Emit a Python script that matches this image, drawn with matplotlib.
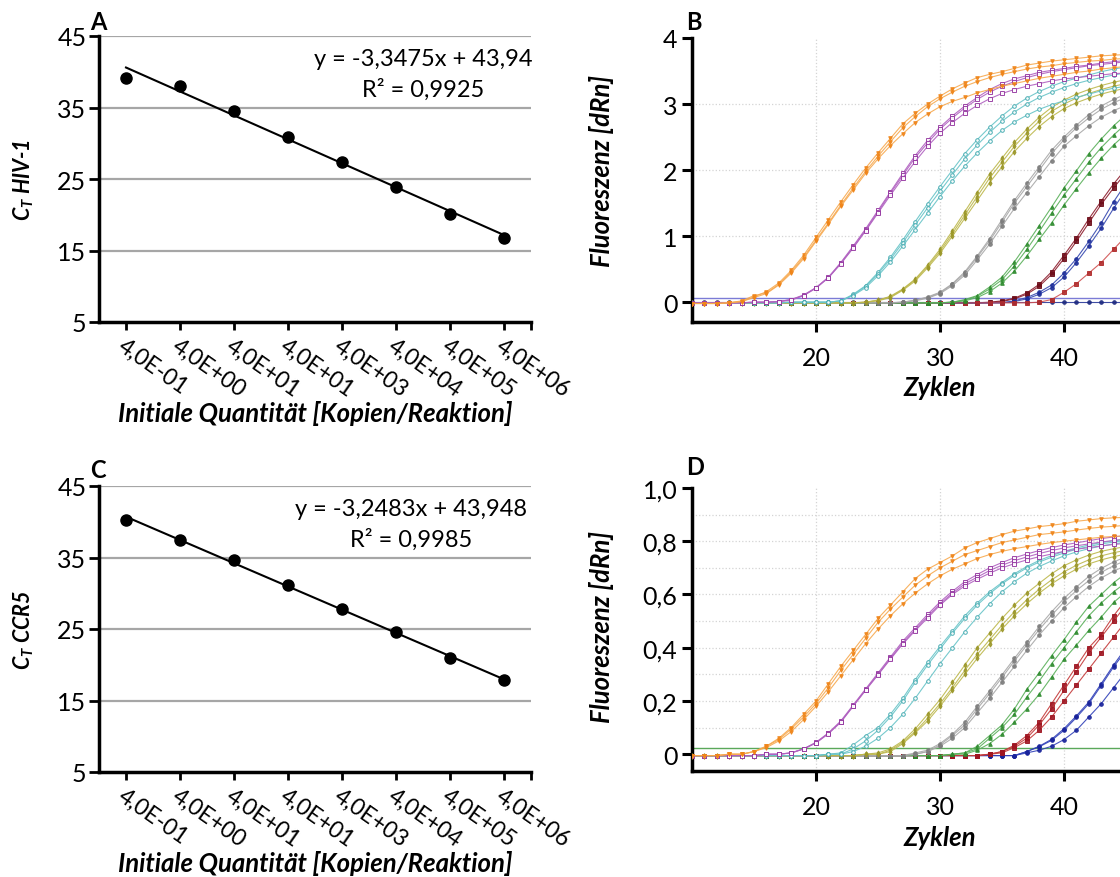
import matplotlib
matplotlib.use("Agg")
import matplotlib.pyplot as plt
from matplotlib.transforms import ScaledTranslation

plt.rcParams["font.family"] = ["Lato", "DejaVu Sans"]
plt.rcParams["mathtext.fontset"] = "custom"
plt.rcParams["mathtext.it"] = "Lato:italic:bold"
plt.rcParams["mathtext.rm"] = "Lato:bold"

# ---- standard curves (panels A, C) ----
QUANT_LABELS = ["4,0E-01", "4,0E+00", "4,0E+01", "4,0E+01",
                "4,0E+03", "4,0E+04", "4,0E+05", "4,0E+06"]
CT_HIV = [39.1, 38.0, 34.5, 30.9, 27.4, 23.9, 20.1, 16.7]
CT_CCR5 = [40.2, 37.4, 34.7, 31.2, 27.8, 24.6, 21.0, 17.9]
FIT_HIV = (-3.3475, 43.94)
FIT_CCR5 = (-3.2483, 43.948)
EQ_HIV = ["y = -3,3475x + 43,94", "R² = 0,9925"]
EQ_CCR5 = ["y = -3,2483x + 43,948", "R² = 0,9985"]

# ---- amplification plots (panels B, D), one value per cycle 10..45 ----
CYCLES = list(range(10, 46))

HIV_ORANGE = [
    [-0.02, -0.02, -0.02, -0.01, 0.01, 0.08, 0.16, 0.29, 0.48, 0.71, 0.98, 1.25, 1.52, 1.78, 2.03, 2.26, 2.48, 2.70,
     2.86, 3.00, 3.12, 3.23, 3.32, 3.40, 3.45, 3.49, 3.54, 3.59, 3.62, 3.65, 3.67, 3.69, 3.71, 3.73, 3.74, 3.75],
    [-0.02, -0.02, -0.02, -0.01, 0.02, 0.10, 0.14, 0.27, 0.46, 0.68, 0.94, 1.20, 1.47, 1.73, 1.98, 2.21, 2.43, 2.64,
     2.81, 2.96, 3.08, 3.18, 3.27, 3.34, 3.40, 3.45, 3.49, 3.53, 3.56, 3.58, 3.61, 3.63, 3.65, 3.66, 3.68, 3.69],
    [-0.02, -0.02, -0.02, -0.01, 0.01, 0.07, 0.13, 0.26, 0.44, 0.66, 0.92, 1.18, 1.45, 1.70, 1.95, 2.17, 2.37, 2.55,
     2.72, 2.85, 2.96, 3.04, 3.10, 3.17, 3.22, 3.27, 3.31, 3.35, 3.39, 3.42, 3.45, 3.48, 3.50, 3.53, 3.55, 3.57],
]
HIV_PURPLE = [
    [-0.01, -0.01, -0.01, -0.01, -0.01, 0.00, 0.00, 0.01, 0.04, 0.11, 0.22, 0.38, 0.60, 0.85, 1.11, 1.39, 1.67, 1.95,
     2.22, 2.45, 2.65, 2.82, 2.97, 3.10, 3.22, 3.31, 3.38, 3.43, 3.48, 3.51, 3.54, 3.57, 3.59, 3.62, 3.64, 3.66],
    [-0.01, -0.01, -0.01, -0.01, -0.01, 0.00, 0.00, 0.01, 0.04, 0.10, 0.22, 0.37, 0.59, 0.83, 1.09, 1.37, 1.65, 1.92,
     2.19, 2.41, 2.62, 2.79, 2.94, 3.07, 3.18, 3.27, 3.34, 3.40, 3.45, 3.49, 3.52, 3.55, 3.58, 3.60, 3.62, 3.64],
    [-0.01, -0.01, -0.01, -0.01, -0.01, 0.00, 0.00, 0.01, 0.03, 0.10, 0.21, 0.37, 0.58, 0.82, 1.08, 1.35, 1.62, 1.88,
     2.13, 2.36, 2.56, 2.72, 2.86, 2.98, 3.08, 3.16, 3.22, 3.27, 3.31, 3.35, 3.38, 3.40, 3.42, 3.44, 3.46, 3.47],
]
HIV_TEAL = [
    [-0.01, -0.01, -0.01, -0.01, -0.01, -0.01, -0.01, -0.01, 0.00, 0.00, 0.00, 0.00, 0.02, 0.12, 0.25, 0.45, 0.68, 0.94,
     1.22, 1.49, 1.75, 2.00, 2.25, 2.46, 2.65, 2.82, 2.97, 3.09, 3.19, 3.27, 3.34, 3.39, 3.44, 3.49, 3.53, 3.56],
    [-0.01, -0.01, -0.01, -0.01, -0.01, -0.01, -0.01, -0.01, 0.00, 0.00, 0.00, 0.00, 0.02, 0.11, 0.24, 0.43, 0.65, 0.90,
     1.17, 1.43, 1.68, 1.93, 2.17, 2.38, 2.57, 2.74, 2.88, 3.00, 3.10, 3.18, 3.25, 3.31, 3.36, 3.40, 3.44, 3.47],
    [-0.01, -0.01, -0.01, -0.01, -0.01, -0.01, -0.01, -0.01, 0.00, 0.00, 0.00, 0.00, 0.02, 0.10, 0.22, 0.40, 0.61, 0.85,
     1.10, 1.35, 1.60, 1.84, 2.06, 2.26, 2.44, 2.60, 2.73, 2.83, 2.92, 2.99, 3.05, 3.10, 3.15, 3.20, 3.24, 3.27],
]
HIV_OLIVE = [
    [-0.01, -0.01, -0.01, -0.01, -0.01, -0.01, -0.01, -0.01, -0.01, -0.01, -0.01, -0.01, -0.01, -0.01, 0.00, 0.03,
     0.09, 0.20, 0.35, 0.56, 0.80, 1.08, 1.37, 1.66, 1.94, 2.18, 2.42, 2.62, 2.80, 2.95, 3.06, 3.15, 3.22, 3.28,
     3.33, 3.37],
    [-0.01, -0.01, -0.01, -0.01, -0.01, -0.01, -0.01, -0.01, -0.01, -0.01, -0.01, -0.01, -0.01, -0.01, 0.00, 0.03,
     0.08, 0.19, 0.34, 0.54, 0.77, 1.04, 1.32, 1.60, 1.88, 2.12, 2.36, 2.56, 2.74, 2.89, 3.00, 3.09, 3.16, 3.22,
     3.27, 3.31],
    [-0.01, -0.01, -0.01, -0.01, -0.01, -0.01, -0.01, -0.01, -0.01, -0.01, -0.01, -0.01, -0.01, -0.01, 0.00, 0.02,
     0.07, 0.18, 0.32, 0.52, 0.74, 1.00, 1.27, 1.54, 1.81, 2.05, 2.28, 2.48, 2.66, 2.81, 2.93, 3.02, 3.09, 3.15,
     3.20, 3.24],
]
HIV_GRAY = [
    [-0.01, -0.01, -0.01, -0.01, -0.01, -0.01, -0.01, -0.01, -0.01, -0.01, -0.01, -0.01, -0.01, -0.01, -0.01, -0.01,
     -0.01, 0.00, 0.03, 0.08, 0.15, 0.28, 0.46, 0.70, 0.96, 1.25, 1.54, 1.80, 2.05, 2.30, 2.50, 2.68, 2.84, 2.97,
     3.07, 3.15],
    [-0.01, -0.01, -0.01, -0.01, -0.01, -0.01, -0.01, -0.01, -0.01, -0.01, -0.01, -0.01, -0.01, -0.01, -0.01, -0.01,
     -0.01, 0.00, 0.03, 0.07, 0.14, 0.27, 0.44, 0.68, 0.93, 1.21, 1.50, 1.75, 2.00, 2.25, 2.46, 2.64, 2.79, 2.92,
     3.02, 3.10],
    [-0.01, -0.01, -0.01, -0.01, -0.01, -0.01, -0.01, -0.01, -0.01, -0.01, -0.01, -0.01, -0.01, -0.01, -0.01, -0.01,
     -0.01, 0.00, 0.02, 0.06, 0.13, 0.25, 0.41, 0.64, 0.88, 1.15, 1.42, 1.66, 1.90, 2.14, 2.36, 2.52, 2.67, 2.80,
     2.90, 2.98],
]
HIV_GREEN = [
    [-0.01, -0.01, -0.01, -0.01, -0.01, -0.01, -0.01, -0.01, -0.01, -0.01, -0.01, -0.01, -0.01, -0.01, -0.01, -0.01,
     -0.01, -0.01, -0.01, -0.01, -0.01, 0.00, 0.04, 0.10, 0.23, 0.38, 0.61, 0.88, 1.16, 1.44, 1.73, 1.99, 2.25, 2.47,
     2.67, 2.84],
    [-0.01, -0.01, -0.01, -0.01, -0.01, -0.01, -0.01, -0.01, -0.01, -0.01, -0.01, -0.01, -0.01, -0.01, -0.01, -0.01,
     -0.01, -0.01, -0.01, -0.01, -0.01, 0.00, 0.03, 0.09, 0.20, 0.34, 0.55, 0.80, 1.07, 1.35, 1.62, 1.87, 2.12, 2.34,
     2.53, 2.70],
    [-0.01, -0.01, -0.01, -0.01, -0.01, -0.01, -0.01, -0.01, -0.01, -0.01, -0.01, -0.01, -0.01, -0.01, -0.01, -0.01,
     -0.01, -0.01, -0.01, -0.01, -0.01, 0.00, 0.02, 0.07, 0.16, 0.29, 0.47, 0.70, 0.95, 1.20, 1.47, 1.72, 1.96, 2.18,
     2.38, 2.55],
]
HIV_MAROON = [
    [-0.01, -0.01, -0.01, -0.01, -0.01, -0.01, -0.01, -0.01, -0.01, -0.01, -0.01, -0.01, -0.01, -0.01, -0.01, -0.01,
     -0.01, -0.01, -0.01, -0.01, -0.01, -0.01, -0.01, -0.01, 0.00, 0.02, 0.06, 0.14, 0.27, 0.46, 0.71, 0.97, 1.26,
     1.53, 1.79, 2.02],
    [-0.01, -0.01, -0.01, -0.01, -0.01, -0.01, -0.01, -0.01, -0.01, -0.01, -0.01, -0.01, -0.01, -0.01, -0.01, -0.01,
     -0.01, -0.01, -0.01, -0.01, -0.01, -0.01, -0.01, -0.01, -0.01, 0.01, 0.05, 0.12, 0.24, 0.42, 0.66, 0.92, 1.20,
     1.48, 1.73, 1.96],
]
HIV_BLUE = [
    [-0.01, -0.01, -0.01, -0.01, -0.01, -0.01, -0.01, -0.01, -0.01, -0.01, -0.01, -0.01, -0.01, -0.01, -0.01, -0.01,
     -0.01, -0.01, -0.01, -0.01, -0.01, -0.01, -0.01, -0.01, -0.01, -0.01, 0.02, 0.07, 0.15, 0.26, 0.44, 0.66, 0.92,
     1.20, 1.52, 1.80],
    [-0.01, -0.01, -0.01, -0.01, -0.01, -0.01, -0.01, -0.01, -0.01, -0.01, -0.01, -0.01, -0.01, -0.01, -0.01, -0.01,
     -0.01, -0.01, -0.01, -0.01, -0.01, -0.01, -0.01, -0.01, -0.01, -0.01, 0.01, 0.05, 0.12, 0.22, 0.38, 0.60, 0.85,
     1.12, 1.42, 1.70],
]
HIV_RED = [
    [-0.01, -0.01, -0.01, -0.01, -0.01, -0.01, -0.01, -0.01, -0.01, -0.01, -0.01, -0.01, -0.01, -0.01, -0.01, -0.01,
     -0.01, -0.01, -0.01, -0.01, -0.01, -0.01, -0.01, -0.01, -0.01, -0.01, -0.01, -0.01, 0.00, 0.04, 0.15, 0.28,
     0.44, 0.60, 0.80, 1.00],
]
HIV_NTC = [
    [0.00, 0.00, 0.00, 0.00, 0.00, 0.00, 0.00, 0.00, 0.00, 0.00, 0.00, 0.00, 0.00, 0.00, 0.00, 0.00, 0.00, 0.00,
     0.00, 0.00, 0.00, 0.00, 0.00, 0.00, 0.00, 0.00, 0.00, 0.00, 0.00, 0.00, 0.00, 0.00, 0.00, 0.00, 0.00, 0.00],
]
HIV_THRESHOLD = 0.065

CCR5_ORANGE = [
    [-0.005, -0.005, -0.005, 0.0, 0.0, 0.01, 0.03, 0.06, 0.10, 0.15, 0.20, 0.265, 0.33, 0.39, 0.45, 0.51, 0.56, 0.61,
     0.66, 0.695, 0.72, 0.745, 0.775, 0.795, 0.81, 0.825, 0.838, 0.846, 0.855, 0.86, 0.866, 0.875, 0.88, 0.885,
     0.888, 0.89],
    [-0.005, -0.005, -0.005, 0.0, 0.0, 0.01, 0.03, 0.055, 0.095, 0.14, 0.19, 0.25, 0.315, 0.375, 0.435, 0.495, 0.545,
     0.59, 0.635, 0.67, 0.70, 0.725, 0.75, 0.765, 0.78, 0.795, 0.805, 0.815, 0.825, 0.83, 0.835, 0.842, 0.848,
     0.853, 0.856, 0.86],
    [-0.005, -0.005, -0.005, 0.0, 0.0, 0.01, 0.025, 0.05, 0.085, 0.13, 0.18, 0.235, 0.295, 0.355, 0.415, 0.47, 0.52,
     0.565, 0.605, 0.64, 0.67, 0.695, 0.715, 0.735, 0.75, 0.762, 0.772, 0.78, 0.788, 0.795, 0.80, 0.805, 0.81,
     0.815, 0.818, 0.82],
]
CCR5_PURPLE = [
    [-0.005, -0.005, -0.005, -0.005, -0.005, -0.005, 0.0, 0.0, 0.005, 0.02, 0.045, 0.08, 0.125, 0.185, 0.245, 0.305,
     0.365, 0.425, 0.475, 0.525, 0.572, 0.612, 0.648, 0.675, 0.70, 0.72, 0.738, 0.752, 0.765, 0.776, 0.786, 0.794,
     0.802, 0.81, 0.816, 0.822],
    [-0.005, -0.005, -0.005, -0.005, -0.005, -0.005, 0.0, 0.0, 0.005, 0.02, 0.043, 0.078, 0.122, 0.182, 0.242, 0.30,
     0.36, 0.418, 0.468, 0.518, 0.565, 0.605, 0.64, 0.665, 0.69, 0.71, 0.727, 0.741, 0.754, 0.765, 0.775, 0.783,
     0.79, 0.797, 0.803, 0.808],
    [-0.005, -0.005, -0.005, -0.005, -0.005, -0.005, 0.0, 0.0, 0.005, 0.02, 0.042, 0.077, 0.12, 0.18, 0.24, 0.298,
     0.357, 0.414, 0.464, 0.512, 0.56, 0.60, 0.632, 0.657, 0.68, 0.70, 0.716, 0.73, 0.742, 0.752, 0.762, 0.77,
     0.776, 0.782, 0.788, 0.792],
]
CCR5_TEAL = [
    [-0.005, -0.005, -0.005, -0.005, -0.005, -0.005, -0.005, -0.005, -0.005, -0.005, -0.005, 0.0, 0.005, 0.035, 0.07,
     0.10, 0.15, 0.21, 0.28, 0.345, 0.405, 0.462, 0.52, 0.568, 0.61, 0.645, 0.678, 0.705, 0.728, 0.746, 0.762,
     0.775, 0.786, 0.795, 0.802, 0.808],
    [-0.005, -0.005, -0.005, -0.005, -0.005, -0.005, -0.005, -0.005, -0.005, -0.005, -0.005, 0.0, 0.0, 0.02, 0.05,
     0.09, 0.14, 0.20, 0.27, 0.335, 0.395, 0.455, 0.51, 0.56, 0.603, 0.64, 0.672, 0.70, 0.722, 0.74, 0.756, 0.77,
     0.78, 0.79, 0.797, 0.803],
    [-0.005, -0.005, -0.005, -0.005, -0.005, -0.005, -0.005, -0.005, -0.005, -0.005, -0.005, 0.0, 0.0, 0.01, 0.03,
     0.06, 0.10, 0.15, 0.21, 0.275, 0.34, 0.40, 0.46, 0.515, 0.565, 0.61, 0.648, 0.68, 0.705, 0.726, 0.745, 0.76,
     0.772, 0.782, 0.79, 0.797],
]
CCR5_OLIVE = [
    [-0.005, -0.005, -0.005, -0.005, -0.005, -0.005, -0.005, -0.005, -0.005, -0.005, -0.005, -0.005, -0.005, -0.005,
     0.0, 0.005, 0.02, 0.05, 0.095, 0.15, 0.205, 0.27, 0.335, 0.40, 0.455, 0.51, 0.56, 0.605, 0.642, 0.678, 0.708,
     0.73, 0.748, 0.762, 0.772, 0.78],
    [-0.005, -0.005, -0.005, -0.005, -0.005, -0.005, -0.005, -0.005, -0.005, -0.005, -0.005, -0.005, -0.005, -0.005,
     0.0, 0.0, 0.015, 0.045, 0.085, 0.135, 0.19, 0.25, 0.315, 0.375, 0.43, 0.485, 0.535, 0.58, 0.62, 0.655, 0.685,
     0.71, 0.73, 0.745, 0.757, 0.766],
    [-0.005, -0.005, -0.005, -0.005, -0.005, -0.005, -0.005, -0.005, -0.005, -0.005, -0.005, -0.005, -0.005, -0.005,
     0.0, 0.0, 0.01, 0.04, 0.08, 0.125, 0.18, 0.24, 0.30, 0.36, 0.415, 0.47, 0.52, 0.565, 0.605, 0.64, 0.67, 0.695,
     0.715, 0.73, 0.742, 0.752],
]
CCR5_GRAY = [
    [-0.005, -0.005, -0.005, -0.005, -0.005, -0.005, -0.005, -0.005, -0.005, -0.005, -0.005, -0.005, -0.005, -0.005,
     -0.005, -0.005, -0.005, -0.005, 0.005, 0.015, 0.04, 0.075, 0.12, 0.18, 0.238, 0.298, 0.36, 0.42, 0.48, 0.535,
     0.585, 0.628, 0.668, 0.698, 0.722, 0.742],
    [-0.005, -0.005, -0.005, -0.005, -0.005, -0.005, -0.005, -0.005, -0.005, -0.005, -0.005, -0.005, -0.005, -0.005,
     -0.005, -0.005, -0.005, -0.005, 0.0, 0.01, 0.035, 0.07, 0.11, 0.17, 0.228, 0.288, 0.35, 0.41, 0.468, 0.522,
     0.572, 0.615, 0.652, 0.683, 0.708, 0.728],
    [-0.005, -0.005, -0.005, -0.005, -0.005, -0.005, -0.005, -0.005, -0.005, -0.005, -0.005, -0.005, -0.005, -0.005,
     -0.005, -0.005, -0.005, -0.005, 0.0, 0.01, 0.03, 0.06, 0.10, 0.155, 0.21, 0.27, 0.33, 0.39, 0.448, 0.50, 0.55,
     0.592, 0.63, 0.662, 0.688, 0.708],
]
CCR5_GREEN = [
    [-0.005, -0.005, -0.005, -0.005, -0.005, -0.005, -0.005, -0.005, -0.005, -0.005, -0.005, -0.005, -0.005, -0.005,
     -0.005, -0.005, -0.005, -0.005, -0.005, -0.005, -0.005, 0.0, 0.005, 0.03, 0.07, 0.11, 0.17, 0.244, 0.306, 0.37,
     0.43, 0.496, 0.556, 0.60, 0.644, 0.68],
    [-0.005, -0.005, -0.005, -0.005, -0.005, -0.005, -0.005, -0.005, -0.005, -0.005, -0.005, -0.005, -0.005, -0.005,
     -0.005, -0.005, -0.005, -0.005, -0.005, -0.005, -0.005, 0.0, 0.005, 0.02, 0.06, 0.10, 0.15, 0.215, 0.275, 0.34,
     0.40, 0.46, 0.52, 0.568, 0.61, 0.645],
    [-0.005, -0.005, -0.005, -0.005, -0.005, -0.005, -0.005, -0.005, -0.005, -0.005, -0.005, -0.005, -0.005, -0.005,
     -0.005, -0.005, -0.005, -0.005, -0.005, -0.005, -0.005, 0.0, 0.0, 0.015, 0.04, 0.075, 0.12, 0.17, 0.225, 0.29,
     0.356, 0.41, 0.465, 0.515, 0.57, 0.61],
]
CCR5_RED = [
    [-0.005, -0.005, -0.005, -0.005, -0.005, -0.005, -0.005, -0.005, -0.005, -0.005, -0.005, -0.005, -0.005, -0.005,
     -0.005, -0.005, -0.005, -0.005, -0.005, -0.005, -0.005, -0.005, -0.005, -0.005, 0.0, 0.01, 0.034, 0.07, 0.12,
     0.19, 0.26, 0.33, 0.40, 0.45, 0.52, 0.58],
    [-0.005, -0.005, -0.005, -0.005, -0.005, -0.005, -0.005, -0.005, -0.005, -0.005, -0.005, -0.005, -0.005, -0.005,
     -0.005, -0.005, -0.005, -0.005, -0.005, -0.005, -0.005, -0.005, -0.005, -0.005, 0.0, 0.01, 0.03, 0.06, 0.11,
     0.17, 0.24, 0.31, 0.38, 0.44, 0.50, 0.56],
    [-0.005, -0.005, -0.005, -0.005, -0.005, -0.005, -0.005, -0.005, -0.005, -0.005, -0.005, -0.005, -0.005, -0.005,
     -0.005, -0.005, -0.005, -0.005, -0.005, -0.005, -0.005, -0.005, -0.005, -0.005, 0.0, 0.005, 0.025, 0.05, 0.09,
     0.14, 0.20, 0.26, 0.32, 0.38, 0.44, 0.50],
]
CCR5_BLUE = [
    [-0.005, -0.005, -0.005, -0.005, -0.005, -0.005, -0.005, -0.005, -0.005, -0.005, -0.005, -0.005, -0.005, -0.005,
     -0.005, -0.005, -0.005, -0.005, -0.005, -0.005, -0.005, -0.005, -0.005, -0.005, -0.005, -0.005, -0.005, 0.01,
     0.03, 0.056, 0.096, 0.144, 0.196, 0.265, 0.335, 0.40],
    [-0.005, -0.005, -0.005, -0.005, -0.005, -0.005, -0.005, -0.005, -0.005, -0.005, -0.005, -0.005, -0.005, -0.005,
     -0.005, -0.005, -0.005, -0.005, -0.005, -0.005, -0.005, -0.005, -0.005, -0.005, -0.005, -0.005, -0.005, 0.01,
     0.028, 0.052, 0.09, 0.138, 0.19, 0.258, 0.328, 0.39],
    [-0.005, -0.005, -0.005, -0.005, -0.005, -0.005, -0.005, -0.005, -0.005, -0.005, -0.005, -0.005, -0.005, -0.005,
     -0.005, -0.005, -0.005, -0.005, -0.005, -0.005, -0.005, -0.005, -0.005, -0.005, -0.005, -0.005, -0.005, 0.005,
     0.015, 0.03, 0.055, 0.09, 0.14, 0.19, 0.25, 0.31],
]
CCR5_THRESHOLD = 0.025

# (curves, line colour, marker colour, marker, hollow) -- late groups first so the
# early ones sit on top along the baseline, as in the instrument export
HIV_GROUPS = [
    (HIV_NTC, "#2a3a9a", "#1e2a80", "o", False),
    (HIV_MAROON, "#8c1c2c", "#6e0e1a", "s", False),
    (HIV_BLUE, "#3548b0", "#1c2c98", "o", False),
    (HIV_RED, "#d05050", "#b02a2a", "s", False),
    (HIV_GREEN, "#5ab05a", "#2d8a2d", "^", False),
    (HIV_GRAY, "#a8a8a8", "#7c7c7c", "o", False),
    (HIV_OLIVE, "#bdb84c", "#9a9628", "d", False),
    (HIV_TEAL, "#68c4c8", "#3aa6ac", "o", True),
    (HIV_PURPLE, "#b060c0", "#93339f", "s", True),
    (HIV_ORANGE, "#f7a94f", "#ef8418", "v", False),
]
CCR5_GROUPS = [
    (CCR5_BLUE, "#3040b8", "#18229a", "o", False),
    (CCR5_RED, "#c43a3a", "#9e1420", "s", False),
    (CCR5_GREEN, "#5ab05a", "#2d8a2d", "^", False),
    (CCR5_GRAY, "#a8a8a8", "#7c7c7c", "o", False),
    (CCR5_OLIVE, "#bdb84c", "#9a9628", "d", False),
    (CCR5_TEAL, "#68c4c8", "#3aa6ac", "o", True),
    (CCR5_PURPLE, "#b060c0", "#93339f", "s", True),
    (CCR5_ORANGE, "#f7a94f", "#ef8418", "v", False),
]

W, H = 1120, 878


def px_axes(fig, left, top, right, bottom):
    return fig.add_axes([left / W, 1 - bottom / H, (right - left) / W, (bottom - top) / H])


def draw_standard(ax, ct_values, fit, eq_lines, eq_x, eq_y):
    xs = list(range(1, len(ct_values) + 1))
    ax.set_xlim(0.5, len(xs) + 0.5)
    ax.set_ylim(5, 45)
    ax.set_yticks([5, 15, 25, 35, 45])
    for y in [15, 25, 35, 45]:
        ax.axhline(y, color="#a6a6a6", lw=1.6, zorder=1)
    slope, intercept = fit
    ax.plot([xs[0], xs[-1]], [slope * xs[0] + intercept, slope * xs[-1] + intercept],
            color="black", lw=1.5, zorder=3)
    ax.plot(xs, ct_values, "o", color="black", markersize=8, zorder=4)
    ax.set_xticks(xs + [len(xs) + 0.5])
    ax.set_xticklabels(QUANT_LABELS + [""])
    shift = ScaledTranslation(5 / 72, 0, ax.figure.dpi_scale_trans)
    for lab in ax.get_xticklabels():
        lab.set_rotation(-35)
        lab.set_ha("left")
        lab.set_va("top")
        lab.set_rotation_mode("anchor")
        lab.set_transform(lab.get_transform() + shift)
    for side in ["top", "right"]:
        ax.spines[side].set_visible(False)
    for side in ["left", "bottom"]:
        ax.spines[side].set_linewidth(2.5)
    ax.tick_params(axis="y", direction="out", length=7, width=2, labelsize=18, pad=2)
    ax.tick_params(axis="x", direction="out", length=6, width=2, labelsize=16.5, pad=3)
    fig = ax.figure
    fig.text(eq_x / W, 1 - eq_y / H, eq_lines[0], ha="center", va="center", fontsize=17)
    fig.text(eq_x / W, 1 - (eq_y + 30) / H, eq_lines[1], ha="center", va="center", fontsize=17)


def draw_amplification(ax, groups, threshold, thr_color, ylim, yticks, ylabels, grid_y):
    ax.set_xlim(10, 50)
    ax.set_ylim(*ylim)
    for x in [20, 30, 40, 50]:
        ax.axvline(x, color="#d4d4d4", lw=0.9, ls=":", zorder=0)
    for y in grid_y:
        ax.axhline(y, color="#d4d4d4", lw=0.9, ls=":", zorder=0)
    ax.axhline(threshold, color=thr_color, lw=1.0, zorder=2)
    for curves, lcol, mcol, marker, hollow in groups:
        for values in curves:
            ax.plot(CYCLES, values, color=lcol, lw=0.8, alpha=0.9, zorder=3,
                    marker=marker, markersize=2.6, markeredgewidth=0.7,
                    markeredgecolor=mcol, markerfacecolor="white" if hollow else mcol)
    ax.set_xticks([20, 30, 40])
    ax.set_yticks(yticks)
    ax.set_yticklabels(ylabels)
    for side in ["top", "right"]:
        ax.spines[side].set_visible(False)
    for side in ["left", "bottom"]:
        ax.spines[side].set_linewidth(2.5)
    ax.tick_params(direction="out", length=7, width=2.2, labelsize=18)
    ax.tick_params(axis="x", pad=10)


fig = plt.figure(figsize=(W / 100, H / 100), dpi=100)

ax_a = px_axes(fig, 99, 37, 531, 323)
draw_standard(ax_a, CT_HIV, FIT_HIV, EQ_HIV, 423, 60)
ax_c = px_axes(fig, 99, 487, 531, 773)
draw_standard(ax_c, CT_CCR5, FIT_CCR5, EQ_CCR5, 411, 510)

ax_b = px_axes(fig, 692, 39, 1188, 323)
draw_amplification(ax_b, HIV_GROUPS, HIV_THRESHOLD, "#7b7bd6", (-0.3, 4.0),
                   [0, 1, 2, 3, 4], ["0", "1", "2", "3", "4"], [1, 2, 3])
ax_d = px_axes(fig, 692, 489, 1188, 772)
draw_amplification(ax_d, CCR5_GROUPS, CCR5_THRESHOLD, "#5aa85a", (-0.063, 1.0),
                   [0, 0.2, 0.4, 0.6, 0.8, 1.0], ["0", "0,2", "0,4", "0,6", "0,8", "1,0"],
                   [0.1, 0.2, 0.3, 0.4, 0.5, 0.6, 0.7, 0.8, 0.9])

lab = dict(fontweight="bold", style="italic", fontsize=18.5)
ct_lab = dict(fontweight="bold", style="italic", fontsize=15.5)
fig.text(24 / W, 1 - 180 / H, r"$C_T$ HIV-1", rotation=90, ha="center", va="center", **ct_lab)
fig.text(24 / W, 1 - 630 / H, r"$C_T$ CCR5", rotation=90, ha="center", va="center", **ct_lab)
fig.text(315 / W, 1 - 414 / H, "Initiale Quantität [Kopien/Reaktion]", ha="center", va="center", **lab)
fig.text(315 / W, 1 - 864 / H, "Initiale Quantität [Kopien/Reaktion]", ha="center", va="center", **lab)
fig.text(602 / W, 1 - 171 / H, "Fluoreszenz [dRn]", rotation=90, ha="center", va="center", **lab)
fig.text(602 / W, 1 - 627 / H, "Fluoreszenz [dRn]", rotation=90, ha="center", va="center", **lab)
fig.text(940 / W, 1 - 388 / H, "Zyklen", ha="center", va="center", **lab)
fig.text(940 / W, 1 - 838 / H, "Zyklen", ha="center", va="center", **lab)

for letter, x, y in [("A", 90, 23), ("B", 686, 23), ("C", 90, 471), ("D", 686, 468)]:
    fig.text(x / W, 1 - y / H, letter, fontweight="bold", fontsize=17, ha="left", va="center")

fig.savefig("out.png", dpi=100)
